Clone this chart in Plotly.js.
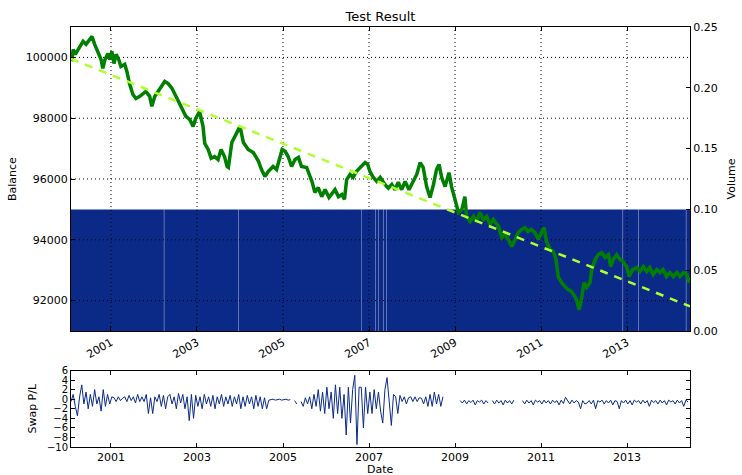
<!DOCTYPE html>
<html>
<head>
<meta charset="utf-8">
<script src="https://cdn.plot.ly/plotly-3.0.1.min.js"></script>
<style>html,body{margin:0;padding:0;background:#fff;}#chart{width:742px;height:475px;}</style>
</head>
<body>
<div id="chart"></div>
<script>
// ---------- data ----------
const xRange = [2000.07, 2014.465];
const yearTicks = [2001, 2003, 2005, 2007, 2009, 2011, 2013];
const yearTickText = ['2001', '2003', '2005', '2007', '2009', '2011', '2013'];
const balanceTicks = [92000, 94000, 96000, 98000, 100000];
const balanceRange = [91000, 101000];
const volumeRange = [0, 0.25];
const swapRange = [-10, 6];

const balYears = [2000.09,2000.12,2000.17,2000.23,2000.35,2000.42,2000.50,2000.56,2000.62,2000.70,2000.77,2000.81,2000.86,2000.93,2000.97,
 2001.02,2001.07,2001.12,2001.18,2001.23,2001.32,2001.37,2001.43,2001.51,2001.58,2001.67,2001.74,2001.81,2001.90,2001.95,
 2002.02,2002.13,2002.25,2002.33,2002.42,2002.49,2002.57,2002.67,2002.74,2002.83,2002.91,2002.97,
 2003.06,2003.14,2003.18,2003.26,2003.33,2003.41,2003.49,2003.56,2003.64,2003.70,2003.73,2003.81,2003.88,
 2004.00,2004.08,2004.19,2004.31,2004.43,2004.50,2004.58,2004.66,2004.77,2004.85,2004.93,2004.98,
 2005.05,2005.12,2005.20,2005.28,2005.36,2005.43,2005.55,2005.63,2005.68,2005.74,2005.82,2005.90,2005.98,
 2006.07,2006.13,2006.21,2006.29,2006.37,2006.43,2006.48,2006.56,2006.63,2006.71,2006.83,2006.91,2006.97,
 2007.02,2007.10,2007.18,2007.26,2007.33,2007.37,2007.45,2007.53,2007.60,2007.68,2007.76,2007.84,2007.93,
 2008.03,2008.11,2008.19,2008.26,2008.34,2008.42,2008.50,2008.57,2008.63,2008.69,2008.77,2008.86,2008.92,
 2009.00,2009.08,2009.16,2009.23,2009.27,2009.35,2009.43,2009.50,2009.58,2009.66,2009.74,2009.81,2009.89,
 2010.01,2010.09,2010.16,2010.24,2010.32,2010.40,2010.47,2010.55,2010.63,2010.70,2010.78,2010.86,2010.94,
 2011.02,2011.07,2011.13,2011.21,2011.29,2011.35,2011.40,2011.48,2011.56,2011.63,2011.71,2011.79,2011.84,2011.89,2011.95,
 2012.00,2012.06,2012.14,2012.18,2012.26,2012.33,2012.41,2012.49,2012.57,2012.62,2012.68,2012.76,2012.84,2012.91,2012.99,
 2013.05,2013.13,2013.23,2013.30,2013.38,2013.46,2013.53,2013.61,2013.69,2013.77,2013.84,2013.92,
 2014.00,2014.08,2014.16,2014.23,2014.31,2014.39,2014.45];
const balValues = [99870,100260,100100,100260,100530,100430,100590,100690,100430,100130,99930,99640,99930,100130,99930,
 100200,99800,100100,99930,99700,99770,99540,99140,98780,98650,98720,98820,98880,98720,98390,
 98720,98950,99210,99140,98980,98780,98550,98290,98060,97960,97730,97990,
 98220,97730,97170,96970,96680,96740,96640,96970,96740,96410,96380,97200,97400,
 97730,97200,96970,96870,96580,96310,96080,96250,96410,96310,96740,96970,
 96910,96740,96410,96640,96710,96410,96380,96080,95890,95560,95720,95420,95650,
 95390,95490,95650,95420,95490,95330,95980,96150,96050,96250,96410,96540,96480,
 96250,96050,95920,96050,95890,95820,95700,95820,95650,95890,95650,95920,95650,
 95920,96150,96540,96380,95750,95390,95820,96310,96480,96050,95750,96210,95750,
 95330,94900,95000,95420,94770,94600,94770,94600,94900,94670,94770,94500,94670,
 94440,94070,94170,94010,93780,94010,94240,94340,94400,94270,94340,94240,94010,
 94270,94400,93940,93680,93610,93350,92790,92590,92460,92360,92300,92130,91970,91700,92130,
 92590,92430,92590,93020,93350,93510,93580,93420,93510,93120,93350,93510,93350,93280,93120,
 92790,93020,93090,92960,93120,92960,93090,92860,93020,92920,93020,92790,
 92920,92790,92920,92790,92920,92860,92590];

const trendYears = [2000.07, 2014.465];
const trendValues = [99950, 91810];

const volumeLevel = 0.1;
const volumeGapYears = [2002.23, 2003.96, 2006.83, 2007.14, 2007.22, 2007.33, 2007.40, 2012.90, 2013.26, 2014.37];

const swapStartYear = 2000.07;
const swapStepYears = 0.05;
const swapValues = [
 -0.5,1,-1.5,-3.5,0.5,3,-1,1.5,-2,1,-1.5,2,-1,0.5,-2.5,2,-1.5,1,-1,0.5,
 0.3,-0.5,0.5,-0.3,0.2,0.5,-0.5,0.8,-0.3,0.5,-0.8,1,-0.5,0.5,-0.5,1,-3,0.3,-3,0.5,
 -0.5,1,-1.5,0.8,-2,0.5,1,-1,0.5,-2,1.2,-0.8,1,-2,0.5,-4.5,1,-4,0.8,-1.5,
 0.5,-2,1,-1,0.5,-1.5,0.8,-2,0.5,-1,1,-1.5,0.5,-1,0.8,-1.5,0.5,-1,1,-2,
 0.5,-1.5,0.8,-1,0.5,-2,0.8,-1.5,0.5,-2,0.3,-2,-0.2,-0.1,0,-0.2,-0.1,0,-0.2,-0.1,
 0,-0.2,-0.1,null,-0.3,-1,null,-0.5,-1.5,0.3,-1,0.5,-2,1,-1.5,2,-2.5,1.5,-3,2.5,
 -2,1.5,-4,3,-3,2.5,-4,1,-7.5,2.5,-5,2,5,-9.5,2.5,2.5,-6,2.5,-3,1.5,
 -3,2,-2,1.5,-2.5,-5,2,4.5,-1,-5.5,1,0.5,-3,0.8,-0.5,0.5,-1,0.3,0.5,-0.5,
 0.5,-0.5,0.3,0.2,-1,0.5,-1.5,1,-1.5,1.5,-1,1,-1.5,0.5,null,0,null,-0.3,null,-1.5,
 null,-0.3,-0.8,-0.2,-1,-0.3,-0.7,-0.2,-1.2,-0.3,-0.6,-0.2,-1,-0.3,-0.8,null,-0.3,-1,-0.2,-0.8,
 -0.3,-1.2,-0.2,-0.8,-0.3,-1,-0.2,null,-0.5,null,-0.3,-1,-0.2,-0.8,-0.3,-1.2,-0.2,-0.6,-0.3,-1,
 -0.2,-0.8,-0.3,-1,-0.2,-0.7,-0.3,-1.2,-0.2,-0.9,0.4,-0.3,-1,-0.2,-0.8,-0.3,-0.6,-2,-0.3,-1,
 -0.8,-0.3,-1,-0.2,-2,-0.3,-0.6,-0.2,-1,-0.3,-0.8,-0.2,-1.2,-0.3,-0.5,-2,-0.3,-0.8,-0.2,-1,
 -0.3,-1.2,-0.2,-0.6,-0.3,-1,-0.2,-0.8,-0.3,-1.5,-0.2,-0.7,-0.3,-1,-0.2,-0.8,-0.3,-1.2,-0.2,-0.6,
 -0.3,-1,-0.2,-0.8,-0.3,-1.5,-0.2,-0.6];

// ---------- derived trace data ----------
const GAP = 0.008;
const volX = [xRange[0]], volY = [volumeLevel];
volumeGapYears.forEach(g => { volX.push(g, g + GAP); volY.push(0, volumeLevel); });
volX.push(xRange[1]); volY.push(volumeLevel);

const swapX = swapValues.map((v, i) => swapStartYear + i * swapStepYears);

const gridX = [], gridY = [];
yearTicks.forEach(t => { gridX.push(t, t, null); gridY.push(balanceRange[0], balanceRange[1], null); });
balanceTicks.forEach(v => { gridX.push(xRange[0], xRange[1], null); gridY.push(v, v, null); });

const NAVY = '#0b2a88';
const traces = [
  {type:'scatter', mode:'lines', x:volX, y:volY, xaxis:'x', yaxis:'y', line:{shape:'hv', width:0, color:NAVY}, fill:'tozeroy', fillcolor:NAVY, hoverinfo:'skip'},
  {type:'scatter', mode:'lines', x:gridX, y:gridY, xaxis:'x', yaxis:'y2', line:{color:'black', width:1, dash:'1px,3px'}, connectgaps:false, hoverinfo:'skip'},
  {type:'scatter', mode:'lines', x:balYears, y:balValues, xaxis:'x', yaxis:'y2', line:{color:'#008000', width:3.5}},
  {type:'scatter', mode:'lines', x:trendYears, y:trendValues, xaxis:'x', yaxis:'y2', line:{color:'#adff2f', width:2.5, dash:'8px,7px'}},
  {type:'scatter', mode:'lines', x:swapX, y:swapValues, xaxis:'x2', yaxis:'y3', line:{color:NAVY, width:1}, connectgaps:false}
];

const W = 742, H = 475;
const xDom = [71 / W, 690 / W];
const axCommon = {showline:true, linecolor:'black', linewidth:1, ticks:'inside', ticklen:4, tickcolor:'black', showgrid:false, zeroline:false, tickfont:{size:11, color:'black'}};

const layout = {
  width:W, height:H, margin:{l:0, r:0, t:0, b:0}, showlegend:false,
  paper_bgcolor:'white', plot_bgcolor:'white',
  font:{family:'DejaVu Sans, sans-serif', size:11, color:'black'},
  title:{text:'Test Result', x:380.5 / W, xanchor:'center', y:1 - 16 / H, yanchor:'middle', font:{size:13, color:'black'}},
  xaxis:Object.assign({}, axCommon, {domain:xDom, range:xRange, anchor:'y', tickvals:yearTicks, ticktext:yearTickText, tickangle:-30, mirror:'ticks'}),
  yaxis:Object.assign({}, axCommon, {domain:[1 - 331 / H, 1 - 27 / H], range:volumeRange, side:'right', anchor:'x', dtick:0.05, tick0:0, tickformat:'.2f',
    title:{text:'Volume', standoff:10, font:{size:11}}}),
  yaxis2:Object.assign({}, axCommon, {overlaying:'y', side:'left', anchor:'x', range:balanceRange, tickvals:balanceTicks, tickformat:'d'}),
  xaxis2:Object.assign({}, axCommon, {domain:xDom, range:xRange, anchor:'y3', tickvals:yearTicks, ticktext:yearTickText, tickangle:0, mirror:'ticks'}),
  yaxis3:Object.assign({}, axCommon, {domain:[1 - 447 / H, 1 - 370.5 / H], range:swapRange, anchor:'x2', dtick:2, tick0:0, mirror:'ticks',
    tickfont:{size:10, color:'black'}, title:{text:'Swap P/L', standoff:8, font:{size:11}}}),
  annotations:[
    {text:'Balance', xref:'paper', yref:'paper', x:12 / W, y:1 - 179 / H, xanchor:'center', yanchor:'middle', textangle:-90, showarrow:false, font:{size:11, color:'black'}},
    {text:'Date', xref:'paper', yref:'paper', x:380.5 / W, y:1 - 461 / H, xanchor:'center', yanchor:'top', showarrow:false, font:{size:11, color:'black'}}
  ]
};

Plotly.newPlot('chart', traces, layout, {staticPlot:true, displayModeBar:false});
</script>
</body>
</html>
